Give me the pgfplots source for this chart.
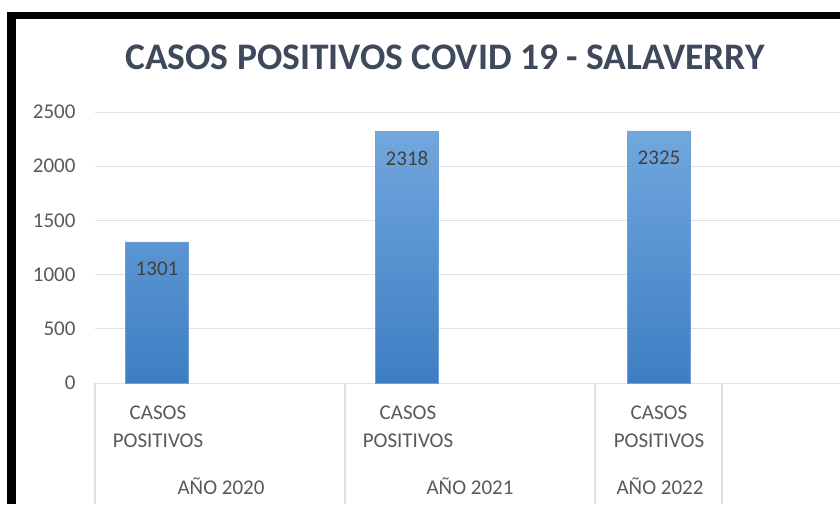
\documentclass[border=0pt]{standalone}
\usepackage{pgfplots}
\pgfplotsset{compat=1.18}
\usepackage{fontspec}
\setmainfont{Carlito}
\definecolor{titlec}{HTML}{3E4A5C}
\definecolor{tickc}{HTML}{595959}
\definecolor{datac}{HTML}{404040}
\definecolor{gridc}{HTML}{DDE2E8}
\definecolor{bartop}{HTML}{72A7DE}
\definecolor{barbot}{HTML}{3D7EC3}
\definecolor{baredge}{HTML}{6FA3D8}
\begin{document}
\begin{tikzpicture}
\path[use as bounding box, fill=white] (-95pt,-121pt) rectangle (745pt,383pt);
\begin{axis}[
  at={(0,0)}, anchor=south west,
  scale only axis, width=745pt, height=271pt,
  xmin=95, xmax=840, ymin=0, ymax=2500,
  axis line style={draw=none},
  xtick=\empty,
  ytick={0,500,1000,1500,2000,2500},
  major tick length=0pt,
  ymajorgrids,
  grid style={gridc, line width=1pt},
  /pgf/number format/1000 sep={},
  /pgf/number format/assume math mode=true,
  yticklabel style={font=\fontsize{21}{21}\selectfont, text=tickc, xshift=-16pt},
  clip=false,
]
\addplot[ybar, bar width=63, draw=baredge, line width=0.6pt,
  top color=bartop, bottom color=barbot,
  nodes near coords,
  nodes near coords style={anchor=center, yshift=-27pt, font=\fontsize{21}{21}\selectfont, text=datac}]
  coordinates {(157,1301) (407,2318) (659,2325)};
\foreach \x in {95,345,595,722} {
  \edef\tmp{\noexpand\draw[gridc, line width=1.2pt] (axis cs:\x,0) -- ([yshift=-121pt]axis cs:\x,0);}\tmp
}
\foreach \x/\y in {158/2020,408/2021,659/2022} {
  \edef\tmp{\noexpand\node[font=\noexpand\fontsize{21}{21}\noexpand\selectfont, text=tickc, align=center, inner sep=0pt] at ([yshift=-44pt]axis cs:\x,0) {CASOS\noexpand\\[7pt]POSITIVOS};}\tmp
}
\node[font=\fontsize{21}{21}\selectfont, text=tickc, inner sep=0pt] at ([yshift=-103pt]axis cs:221,0) {AÑO 2020};
\node[font=\fontsize{21}{21}\selectfont, text=tickc, inner sep=0pt] at ([yshift=-103pt]axis cs:470,0) {AÑO 2021};
\node[font=\fontsize{21}{21}\selectfont, text=tickc, inner sep=0pt] at ([yshift=-103pt]axis cs:660,0) {AÑO 2022};
\end{axis}
\node[font=\fontsize{37.5}{37.5}\selectfont\bfseries, text=titlec] at (350pt,326pt) {CASOS POSITIVOS COVID 19 - SALAVERRY};
\fill[black] (-88pt,-121pt) rectangle (-79pt,371pt);
\fill[black] (-88pt,371pt) rectangle (745pt,364pt);
\end{tikzpicture}
\end{document}
